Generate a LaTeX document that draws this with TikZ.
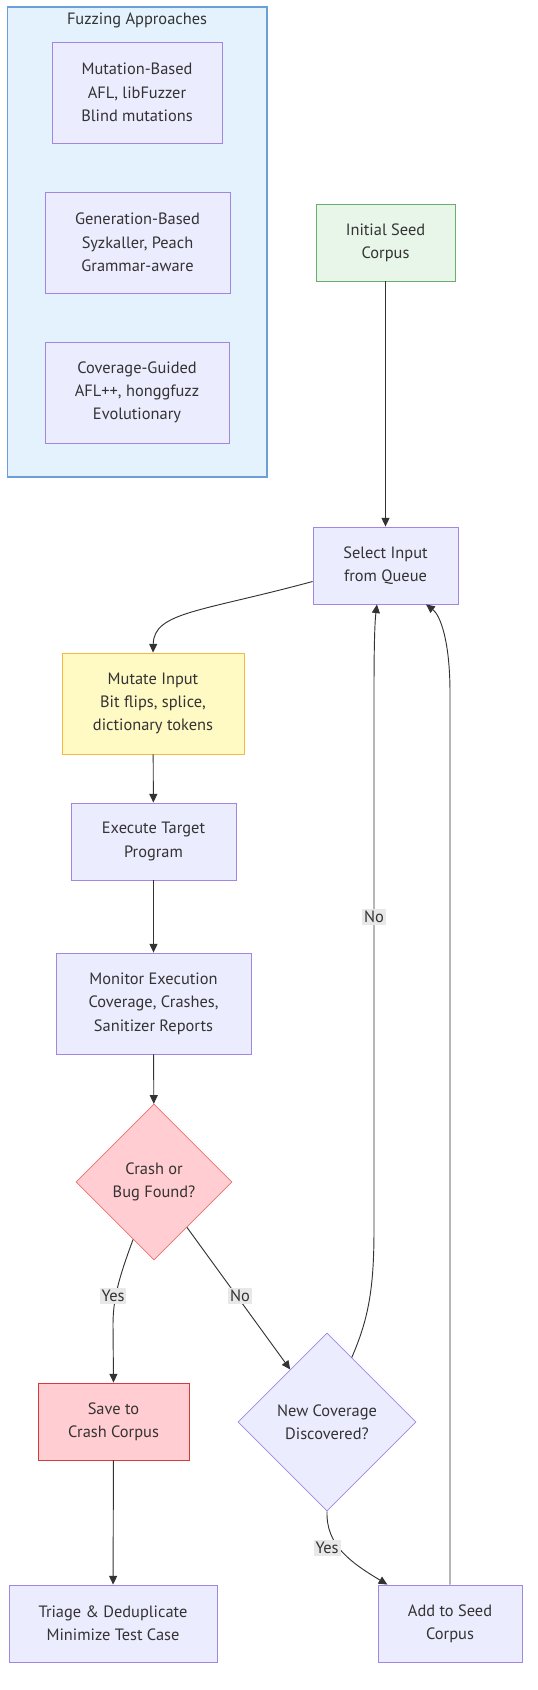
\documentclass[tikz,border=0pt]{standalone}
\usepackage{fontspec}
\setmainfont{PT Sans}
\usetikzlibrary{shapes.geometric,arrows.meta,calc}
\definecolor{txt}{HTML}{333333}
\definecolor{nfill}{HTML}{ECECFF}
\definecolor{nstroke}{HTML}{A287E0}
\definecolor{cfill}{HTML}{E3F2FD}
\definecolor{cstroke}{HTML}{6A9FD8}
\definecolor{gfill}{HTML}{E8F5E9}
\definecolor{gstroke}{HTML}{6AAE6D}
\definecolor{yfill}{HTML}{FFF9C4}
\definecolor{ystroke}{HTML}{F5B942}
\definecolor{rfill}{HTML}{FFCDD2}
\definecolor{rstroke}{HTML}{E57373}
\definecolor{rdark}{HTML}{D63B3B}
\definecolor{lblfill}{HTML}{E8E8E8}
\tikzset{
  every node/.style={text=txt, font=\fontsize{12.3}{17.5}\selectfont, align=center},
  box/.style={rectangle, draw=nstroke, fill=nfill, line width=0.65pt, inner sep=0pt},
  dia/.style={diamond, draw=nstroke, fill=nfill, line width=0.55pt, inner sep=0pt},
  conn/.style={draw=txt, line width=0.7pt, -{Triangle[length=6.5pt,width=6pt]}},
  lbl/.style={fill=lblfill, inner sep=1.5pt, font=\fontsize{12.3}{14}\selectfont}
}
\begin{document}
\begin{tikzpicture}[x=0.75pt,y=-0.75pt]
\useasboundingbox (0,0) rectangle (538,1690);
% cluster
\draw[fill=cfill, draw=cstroke, line width=0.8pt] (7.5,7) rectangle (267,477);
\node (ctitle) at (137,20) {Fuzzing Approaches};
\node[box, minimum width=127.5pt, minimum height=75.75pt] (mb) at (137,92.5) {Mutation-Based\\AFL, libFuzzer\\Blind mutations};
\node[box, minimum width=138.75pt, minimum height=75.75pt] (gb) at (137.5,242.5) {Generation-Based\\Syzkaller, Peach\\Grammar-aware};
\node[box, minimum width=138pt, minimum height=75.75pt] (cg) at (137,392.5) {Coverage-Guided\\AFL++, honggfuzz\\Evolutionary};
% main flow
\node[box, draw=gstroke, fill=gfill, minimum width=104.25pt, minimum height=57.75pt] (init) at (385.5,242.5) {Initial Seed\\Corpus};
\node[box, minimum width=108.75pt, minimum height=57.75pt] (sel) at (385.5,565.5) {Select Input\\from Queue};
\node[box, draw=ystroke, fill=yfill, minimum width=136.5pt, minimum height=75.75pt] (mut) at (153,703.5) {Mutate Input\\Bit flips, splice,\\dictionary tokens};
\node[box, minimum width=123.75pt, minimum height=57.75pt] (exe) at (153.5,841.5) {Execute Target\\Program};
\node[box, minimum width=146.25pt, minimum height=75.75pt] (mon) at (153.5,1003.5) {Monitor Execution\\Coverage, Crashes,\\Sanitizer Reports};
\node[dia, draw=rstroke, fill=rfill, minimum width=117pt, minimum height=117pt] (crash) at (154,1182) {Crash or\\Bug Found?};
\node[box, draw=rdark, fill=rfill, minimum width=113.25pt, minimum height=57.75pt] (save) at (113.5,1421.5) {Save to\\Crash Corpus};
\node[box, minimum width=156pt, minimum height=57.75pt] (tri) at (113,1623.5) {Triage \& Deduplicate\\Minimize Test Case};
\node[dia, minimum width=133.5pt, minimum height=133.5pt] (cov) at (327,1422) {New Coverage\\Discovered?};
\node[box, minimum width=108pt, minimum height=57.75pt] (add) at (450,1623.5) {Add to Seed\\Corpus};
% connectors
\draw[conn] (init) -- (sel);
\draw[conn] ([yshift=-12pt]sel.west) .. controls (200,612) and (154,612) .. (mut.north);
\draw[conn] (mut) -- (exe);
\draw[conn] (exe) -- (mon);
\draw[conn] (mon) -- (crash);
\draw[conn] (crash.250) .. controls (118,1280) and (113,1300) .. (113,1325) -- (save.north);
\node[lbl] (lyes1) at (113,1296) {Yes};
\draw[conn] (crash.306) -- (cov.125);
\node[lbl] (lno1) at (240,1296) {No};
\draw[conn] (cov.69) .. controls (368,1320) and (374,1290) .. (374,1230) -- (374,690) .. controls (374,640) and (375,620) .. ([xshift=-6.4pt]sel.south);
\node[lbl] (lno2) at (374,917) {No};
\draw[conn] (cov.south) .. controls (326,1545) and (350,1562) .. ([xshift=-47pt]add.north);
\node[lbl] (lyes2) at (327,1548) {Yes};
\draw[conn] (add.north) -- (450,693) .. controls (450,640) and (440,615) .. ([xshift=30.4pt]sel.south);
\draw[conn] (save) -- (tri);
\end{tikzpicture}
\end{document}
